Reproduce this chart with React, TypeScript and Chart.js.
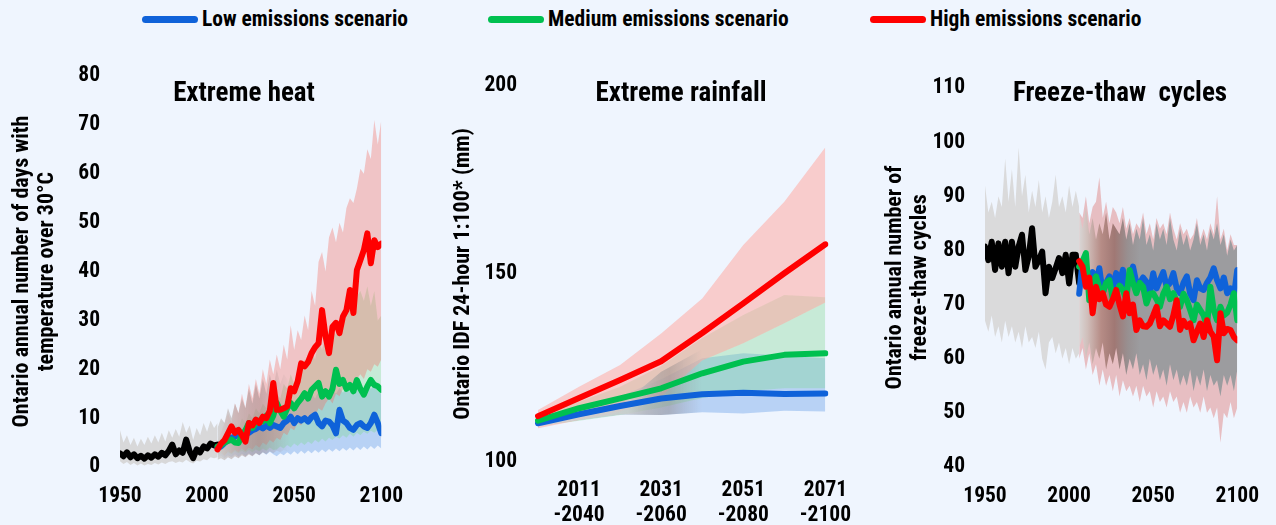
import React, { useEffect, useRef } from 'react';
import { Chart, registerables } from 'chart.js';
Chart.register(...registerables);

const FONT = "'Roboto Condensed', 'Open Sans', sans-serif";
const BG = '#EFF5FE';
const BLUE = '#0F62D9';
const GREEN = '#00C050';
const RED = '#FF0000';
const BLACK = '#000000';

// ---------- Panel 1: Extreme heat (days over 30°C) ----------
const HIST_YEARS = [1950, 1952, 1954, 1956, 1958, 1960, 1962, 1964, 1966, 1968, 1970, 1972, 1974, 1976, 1978, 1980, 1982, 1984, 1986, 1988, 1990, 1992, 1994, 1996, 1998, 2000, 2002, 2004, 2006];
const PROJ_YEARS = [2006, 2008, 2010, 2012, 2014, 2016, 2018, 2020, 2022, 2024, 2026, 2028, 2030, 2032, 2034, 2036, 2038, 2040, 2042, 2044, 2046, 2048, 2050, 2052, 2054, 2056, 2058, 2060, 2062, 2064, 2066, 2068, 2070, 2072, 2074, 2076, 2078, 2080, 2082, 2084, 2086, 2088, 2090, 2092, 2094, 2096, 2098, 2100];
const TRANS_YEARS = [2006, 2008, 2010, 2012, 2014, 2016, 2018, 2020, 2022, 2024, 2026, 2028, 2030, 2032, 2034, 2036, 2038, 2040, 2042, 2044, 2046, 2048];

const HEAT_HIST = [2.8, 2.2, 3.0, 2.0, 2.6, 1.8, 2.3, 1.7, 2.4, 1.9, 2.6, 2.1, 2.9, 2.4, 3.3, 4.6, 2.6, 3.4, 2.9, 5.6, 3.2, 1.8, 3.6, 3.0, 4.2, 3.8, 4.8, 4.4, 4.6];
const HEAT_HIST_HI = [7.5, 5.0, 6.5, 4.5, 6.0, 4.2, 5.8, 4.5, 6.2, 4.8, 6.5, 5.0, 7.0, 5.2, 7.5, 6.0, 7.8, 6.2, 9.2, 7.0, 8.5, 5.5, 8.0, 6.5, 9.0, 7.2, 9.5, 8.0, 9.0];
const HEAT_HIST_LO = [1.2, 0.6, 1.0, 0.4, 0.8, 0.3, 0.7, 0.3, 0.6, 0.4, 0.8, 0.5, 0.9, 0.6, 1.0, 1.2, 0.8, 1.1, 0.9, 1.5, 1.0, 0.7, 1.3, 1.1, 1.6, 1.4, 2.0, 1.8, 2.0];

const HEAT_LOW = [3.9, 4.2, 4.9, 5.5, 6.0, 6.2, 6.9, 6.5, 7.3, 7.0, 7.5, 7.8, 8.3, 7.9, 8.5, 8.0, 8.6, 8.3, 8.0, 9.0, 9.5, 10.3, 9.0, 10.0, 9.5, 10.0, 9.3, 10.2, 10.7, 9.0, 8.3, 9.5, 9.3, 8.5, 6.9, 11.7, 9.5, 9.0, 8.0, 7.6, 8.6, 9.0, 8.3, 8.0, 9.0, 10.7, 9.0, 6.9];
const HEAT_MED = [4.2, 4.5, 5.0, 5.3, 5.6, 5.0, 4.9, 6.5, 7.5, 9.0, 8.0, 9.0, 9.5, 9.3, 10.5, 9.0, 10.5, 13.1, 11.5, 10.3, 12.0, 13.1, 12.0, 13.1, 14.0, 15.1, 14.0, 15.8, 16.5, 17.2, 14.4, 15.5, 14.4, 16.0, 19.9, 17.0, 17.8, 16.0, 16.8, 15.5, 17.8, 16.0, 14.8, 16.5, 17.8, 16.8, 16.5, 15.8];
const HEAT_HIGH = [3.6, 4.8, 5.5, 6.9, 8.3, 7.0, 7.6, 6.5, 5.2, 9.0, 8.5, 9.7, 9.0, 10.3, 10.0, 11.5, 17.2, 11.7, 11.7, 12.0, 12.4, 16.1, 15.5, 17.5, 21.2, 20.6, 21.5, 23.3, 24.5, 25.3, 32.1, 26.7, 23.3, 28.7, 29.5, 27.4, 30.8, 32.1, 36.2, 31.5, 40.3, 42.3, 44.4, 47.8, 41.7, 46.4, 45.0, 45.7];

const HEAT_HIGH_HI = [5, 7, 9, 11, 9, 13, 11, 15, 12, 17, 14, 18, 15, 20, 17, 22, 19, 23, 20, 25, 22, 29, 24, 28, 26, 31, 28, 36, 33, 42, 44, 40, 47, 49, 46, 50, 48, 53, 55, 54, 57, 61, 60, 65, 63, 71, 66, 71];
const HEAT_HIGH_LO = [2.5, 3, 2.2, 3.2, 2.8, 3.5, 3.0, 3.8, 3.2, 4.0, 3.6, 4.5, 4.0, 5.0, 4.5, 5.5, 5.0, 6, 5.5, 7, 6.5, 8, 7.5, 9, 8.5, 10, 9.5, 11, 10.5, 12, 11.5, 13, 14, 13, 15, 14.5, 16, 15.5, 17, 16.5, 18, 19, 18, 20, 19.5, 21, 20.5, 22];
const HEAT_MED_HI = [5, 6, 6.5, 8, 7, 9, 8, 10, 9, 11, 10, 12, 11, 13, 12, 14, 13, 15, 14, 17, 16, 19, 17, 20, 19, 22, 21, 24, 22, 26, 24, 27, 25, 28, 27, 30, 29, 31, 33, 32, 35, 36, 34, 37, 33, 36, 30, 31];
const HEAT_MED_LO = [2.5, 2.8, 2.4, 3.0, 2.6, 3.2, 2.8, 3.3, 2.9, 3.5, 3.0, 3.6, 3.2, 3.8, 3.3, 4.0, 3.5, 3.6, 4.2, 3.8, 4.5, 4.0, 4.8, 4.3, 5.0, 4.5, 5.2, 4.7, 5.5, 5.0, 5.8, 5.2, 6.0, 5.5, 6.2, 5.8, 6.5, 6.0, 6.8, 6.2, 7.0, 6.5, 7.2, 6.8, 7.4, 7.0, 7.6, 7.2];
const HEAT_LOW_HI = [4.5, 5.5, 5.2, 6.5, 6.0, 7.2, 6.8, 8.0, 7.5, 8.8, 8.2, 9.5, 9.0, 10.2, 9.8, 11.0, 10.5, 12, 11.2, 12.8, 12.0, 13.5, 12.6, 14.0, 13.2, 14.5, 13.6, 15.0, 14.0, 15.5, 14.5, 15.8, 14.8, 16.0, 15.0, 16.2, 15.2, 16.4, 15.4, 16.6, 15.6, 16.8, 15.8, 17.0, 16.0, 16.8, 15.5, 15.0];
const HEAT_LOW_LO = [2.0, 2.3, 1.8, 2.4, 2.0, 2.6, 2.1, 2.7, 2.2, 2.8, 2.3, 2.9, 2.4, 3.0, 2.5, 3.1, 2.6, 2.2, 2.8, 2.4, 3.0, 2.5, 3.2, 2.6, 3.3, 2.7, 3.4, 2.8, 3.5, 2.9, 3.6, 3.0, 3.7, 3.1, 3.8, 3.2, 3.9, 3.3, 4.0, 3.4, 4.1, 3.5, 4.2, 3.6, 4.3, 3.7, 4.4, 3.8];
const HEAT_TRANS_HI = [8, 10, 9, 12, 10, 13, 11, 14, 12, 16, 13, 17, 14, 18, 15, 19, 16, 20, 17, 19, 18, 17];
const HEAT_TRANS_LO = [1.5, 1.8, 1.4, 2.0, 1.6, 2.2, 1.8, 2.4, 2.0, 2.6, 2.2, 2.8, 2.4, 3.0, 2.6, 3.2, 2.8, 3.4, 3.0, 3.5, 3.2, 3.4];

// ---------- Panel 2: Extreme rainfall (IDF 24-hour 1:100, mm) ----------
const RAIN_PERIODS = ['', ['2011', '-2040'], '', ['2031', '-2060'], '', ['2051', '-2080'], '', ['2071', '-2100']];
const RAIN_LOW = [110.3, 112.7, 114.9, 116.9, 118.0, 118.4, 118.1, 118.2];
const RAIN_MED = [111.0, 114.3, 116.9, 119.6, 123.6, 126.7, 128.5, 128.9];
const RAIN_HIGH = [112.2, 117.0, 121.8, 126.8, 134.3, 142.2, 150.2, 157.9];
const RAIN_HIGH_HI = [113.8, 120.0, 125.8, 134.2, 143.5, 157.7, 169.2, 183.7];
const RAIN_HIGH_LO = [109.0, 111.2, 113.4, 117.5, 127.0, 131.6, 136.9, 142.4];
const RAIN_MED_HI = [112.5, 116.0, 120.0, 125.5, 133.0, 139.1, 144.4, 143.8];
const RAIN_MED_LO = [109.5, 111.0, 112.5, 114.5, 117.0, 118.8, 119.6, 119.6];
const RAIN_LOW_HI = [111.5, 114.0, 117.5, 122.0, 127.6, 128.9, 128.3, 127.6];
const RAIN_LOW_LO = [109.5, 111.2, 112.6, 112.5, 113.2, 112.9, 113.6, 113.4];
const RAIN_GREY_HI = [110.3, 112.7, 114.9, 124.0, 130.0];
const RAIN_GREY_LO = [109.5, 111.2, 112.6, 112.5, 113.2];

// ---------- Panel 3: Freeze-thaw cycles ----------
const FT_HIST = [80.7, 78.2, 81.6, 76.4, 81.3, 77.0, 81.6, 75.8, 81.6, 77.0, 80.7, 82.9, 76.4, 78.9, 84.1, 77.0, 78.2, 79.8, 72.1, 77.0, 74.9, 76.7, 78.6, 75.8, 79.2, 73.9, 79.2, 79.2, 73.9];
const FT_HIST_HI = [92, 87, 89, 86, 90, 88, 97, 89, 95, 88, 99, 90, 94, 87, 91, 88, 93, 87, 90, 86, 89, 94, 88, 90, 87, 92, 88, 91, 88];
const FT_HIST_LO = [67, 65, 68, 64, 66, 63, 67, 64, 66, 63, 65, 62, 66, 63, 64, 62, 65, 60, 58, 63, 64, 61, 63, 60, 62, 59, 62, 60, 61];
const FT_LOW = [72, 78, 75, 73.9, 76, 74, 76.7, 72.1, 74, 75.2, 73, 75.8, 74, 76.4, 72.7, 75, 77, 74, 73.9, 75, 74.2, 72.1, 75.8, 73, 74.5, 76, 73.3, 74, 75.8, 73, 72.1, 74, 75.2, 72, 70.8, 74.5, 73, 72.7, 74, 75, 76.7, 74.5, 73, 75, 72.1, 73, 71.5, 76.4];
const FT_MED = [77, 78, 79.5, 70.8, 74, 75.2, 73, 72.1, 74, 74.5, 71, 72.1, 73.5, 72.7, 71, 76.4, 74, 72.1, 74, 73.3, 70.2, 72, 72.1, 71, 69.6, 72, 73.3, 71, 72.1, 70.5, 69.6, 72, 70.8, 69, 67.1, 70, 69, 68, 65.9, 73.3, 69, 67.1, 69.6, 68, 68.5, 70, 72.1, 67.1];
const FT_HIGH = [78, 77, 73.3, 75, 68.4, 73.3, 71, 72.1, 70, 69.6, 71, 72.7, 70, 67.8, 72.1, 68.4, 70, 65.3, 67.1, 66, 65.9, 66.5, 68, 69.6, 66, 67.1, 66.5, 65.9, 68, 70.8, 65.3, 67, 65.9, 66.5, 63.4, 65, 66.5, 64, 67.1, 65, 64.1, 59.7, 68.4, 64.7, 65.5, 65.3, 64, 63.4];
const FT_ALL_HI = [87, 84, 88, 83, 86, 82, 85, 83, 87, 82, 85, 84, 83, 86, 82, 85, 81, 84, 82, 86, 81, 83, 80, 85, 82, 84, 81, 86, 82, 80, 84, 81, 83, 80, 82, 85, 81, 83, 80, 84, 82, 85, 81, 83, 79, 82, 80, 81];
const FT_ALL_LO = [62, 64, 60, 63, 59, 62, 60, 63, 58, 61, 59, 62, 58, 61, 57, 60, 58, 61, 57, 59, 56, 60, 57, 59, 56, 58, 55, 59, 56, 58, 55, 57, 55, 58, 54, 57, 55, 58, 54, 57, 55, 56, 53, 57, 55, 57, 54, 58];
const FT_HIGH_HI = [87, 86, 90, 85, 88, 89, 93.5, 86, 89, 85, 88, 87, 85, 88, 84, 86, 83, 85, 84, 87, 83, 85, 82, 86, 84, 85, 83, 87, 84, 82, 85, 83, 84, 82, 83, 86, 82, 84, 82, 85, 83, 90, 82, 84, 80, 83, 81, 81];
const FT_HIGH_LO = [60, 62, 58, 61, 57, 59, 55, 58, 55, 57, 54, 57, 53, 56, 54, 55, 53, 55, 52, 55, 53, 54, 51, 54, 52, 53, 51, 54, 52, 53, 50, 52, 50, 53, 51, 52, 50, 53, 50, 51, 49, 51, 44.5, 50, 49, 52, 49, 51];

// ---------- helpers ----------
function xy(xs: number[], ys: number[]) {
  return xs.map((x, i) => ({ x, y: ys[i] }));
}

function lineDs(label: string, data: any[], color: string, width = 6) {
  return {
    label, data, borderColor: color, backgroundColor: color, borderWidth: width,
    pointRadius: 0, pointHoverRadius: 0, tension: 0, fill: false,
    borderJoinStyle: 'round', borderCapStyle: 'round',
  };
}

function bandDs(label: string, hi: any[], lo: any[], color: any) {
  return [
    { label: label + ' upper', data: hi, borderColor: 'rgba(0,0,0,0)', backgroundColor: color, borderWidth: 0, pointRadius: 0, pointHoverRadius: 0, tension: 0, fill: '+1' },
    { label: label + ' lower', data: lo, borderColor: 'rgba(0,0,0,0)', backgroundColor: 'rgba(0,0,0,0)', borderWidth: 0, pointRadius: 0, pointHoverRadius: 0, tension: 0, fill: false },
  ];
}

function hGradient(stops: [number, string][]) {
  return (ctx: any) => {
    const chart = ctx.chart;
    const xs = chart.scales && chart.scales.x;
    if (!chart.chartArea || !xs) return stops[0][1];
    const x0 = xs.getPixelForValue(stops[0][0]);
    const x1 = xs.getPixelForValue(stops[stops.length - 1][0]);
    const g = chart.ctx.createLinearGradient(x0, 0, x1, 0);
    for (const [v, c] of stops) {
      const t = (xs.getPixelForValue(v) - x0) / (x1 - x0);
      g.addColorStop(Math.min(1, Math.max(0, t)), c);
    }
    return g;
  };
}

const tickFont = { family: FONT, size: 21.5, weight: 'bold' as const, lineHeight: 1.16 };
const titleFont = { family: FONT, size: 22, weight: 'bold' as const, lineHeight: 1.14 };

function yScale(min: number, max: number, step: number, title: string | string[], titlePad: number, width: number, tickPad: number) {
  return {
    min, max,
    ticks: { stepSize: step, padding: tickPad, color: '#000', font: tickFont },
    grid: { display: false, drawTicks: false },
    border: { display: false },
    title: { display: true, text: title, color: '#000', padding: { top: titlePad, bottom: 0 }, font: titleFont },
    afterFit: (s: any) => { s.width = width; },
  };
}

function yearAxis(height: number) {
  return {
    type: 'linear', min: 1950, max: 2100,
    ticks: { stepSize: 50, padding: 17, color: '#000', font: tickFont, callback: (v: any) => String(v) },
    grid: { display: false, drawTicks: false },
    border: { display: false },
    afterFit: (s: any) => { s.height = height; },
  };
}

function baseOptions(padTop: number, padRight: number, scales: any) {
  return {
    responsive: false,
    animation: false,
    events: [],
    layout: { padding: { top: padTop, right: padRight, left: 0, bottom: 0 } },
    plugins: { legend: { display: false }, tooltip: { enabled: false }, title: { display: false } },
    scales,
  };
}

function heatConfig(): any {
  return {
    type: 'line',
    data: {
      datasets: [
        lineDs('High emissions scenario', xy(PROJ_YEARS, HEAT_HIGH), RED),
        lineDs('Medium emissions scenario', xy(PROJ_YEARS, HEAT_MED), GREEN),
        lineDs('Low emissions scenario', xy(PROJ_YEARS, HEAT_LOW), BLUE),
        lineDs('Historical', xy(HIST_YEARS, HEAT_HIST), BLACK),
        ...bandDs('Historical range', xy(HIST_YEARS, HEAT_HIST_HI), xy(HIST_YEARS, HEAT_HIST_LO), 'rgb(216,216,217)'),
        ...bandDs('Transition range', xy(TRANS_YEARS, HEAT_TRANS_HI), xy(TRANS_YEARS, HEAT_TRANS_LO),
          hGradient([[2006, 'rgba(208,208,208,0.9)'], [2016, 'rgba(190,178,178,0.7)'], [2030, 'rgba(160,135,135,0.5)'], [2048, 'rgba(160,140,140,0)']])),
        ...bandDs('High range', xy(PROJ_YEARS, HEAT_HIGH_HI), xy(PROJ_YEARS, HEAT_HIGH_LO), 'rgba(243,105,94,0.35)'),
        ...bandDs('Medium range', xy(PROJ_YEARS, HEAT_MED_HI), xy(PROJ_YEARS, HEAT_MED_LO), 'rgba(126,216,143,0.35)'),
        ...bandDs('Low range', xy(PROJ_YEARS, HEAT_LOW_HI), xy(PROJ_YEARS, HEAT_LOW_LO), 'rgba(83,145,228,0.35)'),
      ],
    },
    options: baseOptions(36, 34, {
      x: yearAxis(58),
      y: yScale(0, 80, 10, ['Ontario annual number of days with', 'temperature over 30°C'], 9.5, 120, 20),
    }),
  };
}

function rainConfig(): any {
  return {
    type: 'line',
    data: {
      labels: RAIN_PERIODS,
      datasets: [
        lineDs('High emissions scenario', RAIN_HIGH, RED, 6),
        lineDs('Medium emissions scenario', RAIN_MED, GREEN, 6),
        lineDs('Low emissions scenario', RAIN_LOW, BLUE, 6),
        ...bandDs('Near-term range', RAIN_GREY_HI, RAIN_GREY_LO,
          hGradient([[0, 'rgba(212,212,212,0.9)'], [2.2, 'rgba(205,205,205,0.85)'], [3.2, 'rgba(150,140,140,0.5)'], [4, 'rgba(150,150,160,0)']])),
        ...bandDs('High range', RAIN_HIGH_HI, RAIN_HIGH_LO, 'rgba(255,170,163,0.55)'),
        ...bandDs('Medium range', RAIN_MED_HI, RAIN_MED_LO, 'rgba(126,216,143,0.35)'),
        ...bandDs('Low range', RAIN_LOW_HI, RAIN_LOW_LO, 'rgba(83,145,228,0.35)'),
      ],
    },
    options: baseOptions(46, 30, {
      x: {
        type: 'category', offset: false,
        ticks: { autoSkip: false, maxRotation: 0, minRotation: 0, padding: 16, color: '#000', font: { ...tickFont, lineHeight: 1.16 } },
        grid: { display: false, drawTicks: false },
        border: { display: false },
        afterFit: (s: any) => { s.height = 63; },
      },
      y: yScale(100, 200, 50, 'Ontario IDF 24-hour 1:100* (mm)', 20.5, 108, 21),
    }),
  };
}

function freezeConfig(): any {
  return {
    type: 'line',
    data: {
      datasets: [
        lineDs('High emissions scenario', xy(PROJ_YEARS, FT_HIGH), RED),
        lineDs('Medium emissions scenario', xy(PROJ_YEARS, FT_MED), GREEN),
        lineDs('Low emissions scenario', xy(PROJ_YEARS, FT_LOW), BLUE),
        lineDs('Historical', xy(HIST_YEARS, FT_HIST), BLACK),
        ...bandDs('Historical range', xy(HIST_YEARS, FT_HIST_HI), xy(HIST_YEARS, FT_HIST_LO), 'rgb(218,218,219)'),
        ...bandDs('All-scenario range', xy(PROJ_YEARS, FT_ALL_HI), xy(PROJ_YEARS, FT_ALL_LO),
          hGradient([[2005, 'rgb(218,218,218)'], [2011, 'rgb(208,190,186)'], [2019, 'rgb(182,140,134)'], [2027, 'rgb(160,120,116)'], [2035, 'rgb(152,144,145)'], [2042, 'rgb(156,156,159)'], [2100, 'rgb(156,156,159)']])),
        ...bandDs('High range', xy(PROJ_YEARS, FT_HIGH_HI), xy(PROJ_YEARS, FT_HIGH_LO), 'rgba(220,107,106,0.4)'),
      ],
    },
    options: baseOptions(48, 30, {
      x: yearAxis(58),
      y: yScale(40, 110, 10, ['Ontario annual number of', 'freeze-thaw cycles'], 12.5, 115, 20),
    }),
  };
}

function ChartBox({ left, top, width, height, build }: { left: number; top: number; width: number; height: number; build: () => any }) {
  const ref = useRef<HTMLCanvasElement>(null);
  useEffect(() => {
    const chart = new Chart(ref.current as HTMLCanvasElement, build());
    return () => chart.destroy();
  }, []);
  return <canvas ref={ref} width={width} height={height} style={{ position: 'absolute', left, top, width, height }} />;
}

const LEGEND = [
  { label: 'Low emissions scenario', color: BLUE, x: 142 },
  { label: 'Medium emissions scenario', color: GREEN, x: 488 },
  { label: 'High emissions scenario', color: RED, x: 870 },
];

const TITLES = [
  { text: 'Extreme heat', cx: 244 },
  { text: 'Extreme rainfall', cx: 681 },
  { text: 'Freeze-thaw  cycles', cx: 1120 },
];

export default function App() {
  useEffect(() => {
    document.body.style.margin = '0';
    document.body.style.background = BG;
  }, []);
  return (
    <div style={{ position: 'fixed', left: 0, top: 0, width: 1276, height: 525, background: BG, overflow: 'hidden', fontFamily: FONT, color: '#000' }}>
      {LEGEND.map((l) => (
        <div key={l.label}>
          <div style={{ position: 'absolute', left: l.x, top: 15.5, width: 56, height: 7, borderRadius: 4, background: l.color }} />
          <div style={{ position: 'absolute', left: l.x + 60, top: 6, height: 26, lineHeight: '26px', fontSize: 21.5, fontWeight: 'bold', whiteSpace: 'pre' }}>{l.label}</div>
        </div>
      ))}
      {TITLES.map((t) => (
        <div key={t.text} style={{ position: 'absolute', left: t.cx - 200, width: 400, top: 77, lineHeight: '30px', fontSize: 27, fontWeight: 'bold', textAlign: 'center', whiteSpace: 'pre', zIndex: 2 }}>{t.text}</div>
      ))}
      <ChartBox left={0} top={40} width={420} height={485} build={heatConfig} />
      <ChartBox left={430} top={40} width={437} height={485} build={rainConfig} />
      <ChartBox left={870} top={40} width={406} height={485} build={freezeConfig} />
    </div>
  );
}
